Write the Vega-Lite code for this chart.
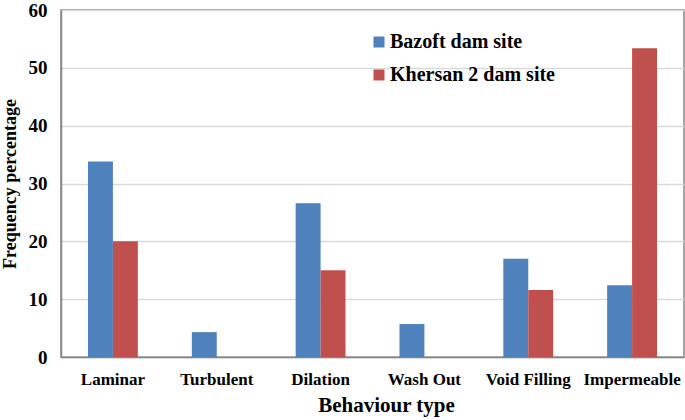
{
  "$schema": "https://vega.github.io/schema/vega-lite/v6.json",
  "width": 623,
  "height": 347,
  "autosize": {"type": "none"},
  "padding": {"left": 61, "top": 10, "right": 1, "bottom": 63},
  "background": "white",
  "config": {
    "view": {"stroke": "#868686", "strokeWidth": 1.5},
    "font": "Liberation Serif"
  },
  "data": {
    "values": [
      {"type": "Laminar", "site": "Bazoft dam site", "value": 33.8},
      {"type": "Laminar", "site": " Khersan 2 dam site", "value": 20.0},
      {"type": "Turbulent", "site": "Bazoft dam site", "value": 4.3},
      {"type": "Turbulent", "site": " Khersan 2 dam site", "value": 0},
      {"type": "Dilation", "site": "Bazoft dam site", "value": 26.6},
      {"type": "Dilation", "site": " Khersan 2 dam site", "value": 15.0},
      {"type": "Wash Out", "site": "Bazoft dam site", "value": 5.7},
      {"type": "Wash Out", "site": " Khersan 2 dam site", "value": 0},
      {"type": "Void Filling", "site": "Bazoft dam site", "value": 17.0},
      {"type": "Void Filling", "site": " Khersan 2 dam site", "value": 11.6},
      {"type": "Impermeable", "site": "Bazoft dam site", "value": 12.4},
      {"type": "Impermeable", "site": " Khersan 2 dam site", "value": 53.4}
    ]
  },
  "mark": {"type": "bar"},
  "encoding": {
    "x": {
      "field": "type",
      "type": "nominal",
      "sort": null,
      "scale": {"paddingInner": 0.52, "paddingOuter": 0.26},
      "axis": {
        "title": "Behaviour type",
        "titleFont": "Liberation Serif",
        "titleFontSize": 21,
        "titleFontWeight": "bold",
        "titleColor": "black",
        "titleX": 325,
        "titleY": 48,
        "titleAlign": "center",
        "titleBaseline": "middle",
        "labelFont": "Liberation Serif",
        "labelFontSize": 17,
        "labelFontWeight": "bold",
        "labelColor": "black",
        "labelAngle": 0,
        "labelPadding": 14,
        "ticks": false,
        "domainColor": "#868686",
        "domainWidth": 1.5
      }
    },
    "xOffset": {"field": "site", "type": "nominal", "sort": null},
    "y": {
      "field": "value",
      "type": "quantitative",
      "scale": {"domain": [0, 60], "nice": false},
      "axis": {
        "title": "Frequency percentage",
        "titleFont": "Liberation Serif",
        "titleFontSize": 18,
        "titleFontWeight": "bold",
        "titleColor": "black",
        "titlePadding": 9,
        "labelFont": "Liberation Serif",
        "labelFontSize": 19,
        "labelFontWeight": "bold",
        "labelColor": "black",
        "labelPadding": 14,
        "values": [0, 10, 20, 30, 40, 50, 60],
        "ticks": false,
        "gridColor": "#d9d9d9",
        "gridWidth": 1.5,
        "domainColor": "#868686",
        "domainWidth": 1.5
      }
    },
    "color": {
      "field": "site",
      "type": "nominal",
      "sort": null,
      "scale": {"range": ["#4f81bd", "#c0504d"]},
      "legend": {
        "title": null,
        "orient": "none",
        "legendX": 308,
        "legendY": 22,
        "symbolType": "square",
        "symbolSize": 121,
        "symbolStrokeWidth": 0,
        "symbolOpacity": 1,
        "labelFont": "Liberation Serif",
        "labelFontSize": 20,
        "labelFontWeight": "bold",
        "labelColor": "black",
        "labelOffset": 1,
        "rowPadding": 13,
        "labelLimit": 300
      }
    }
  }
}
